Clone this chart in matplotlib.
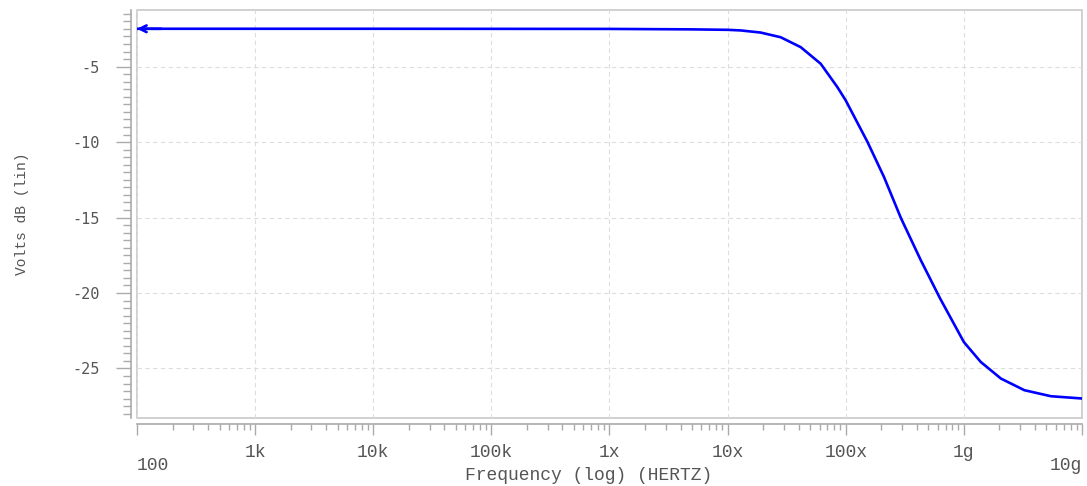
import matplotlib.pyplot as plt
from matplotlib.patches import Rectangle
from matplotlib.ticker import FixedLocator, LogLocator, MultipleLocator, NullFormatter

plt.rcParams["font.family"] = ["Liberation Mono", "DejaVu Sans Mono"]

# values (Hz, dB)
freq = [1e2, 1e4, 1e6, 5e6, 1.0e7, 1.29e7, 1.9e7, 2.81e7, 4.16e7, 6.14e7, 8.5e7,
        1.0e8, 1.53e8, 2.11e8, 2.93e8, 4.32e8, 6.3e8, 1.0e9, 1.39e9, 2.06e9,
        3.25e9, 5.46e9, 1.0e10]
volts_db = [-2.49, -2.49, -2.5, -2.53, -2.56, -2.6, -2.74, -3.05, -3.71, -4.81, -6.36,
            -7.24, -10.0, -12.32, -15.03, -17.83, -20.37, -23.25, -24.57, -25.67,
            -26.44, -26.84, -26.99]

x_ticks = [1e2, 1e3, 1e4, 1e5, 1e6, 1e7, 1e8, 1e9, 1e10]
x_labels = ["100", "1k", "10k", "100k", "1x", "10x", "100x", "1g", "10g"]
y_ticks = [-5, -10, -15, -20, -25]
y_labels = ["-5", "-10", "-15", "-20", "-25"]

txt = "#555555"
axis_col = "#aaaaaa"

fig = plt.figure(figsize=(10.87, 4.86), dpi=100)
ax = fig.add_axes([0.126, 0.14, 0.8694, 0.839])

ax.plot(freq, volts_db, color="#0000ff", lw=1.9, solid_joinstyle="round")
ax.annotate("", xy=(freq[0], volts_db[0]), xytext=(freq[0] * 1.6, volts_db[0]),
            arrowprops=dict(arrowstyle="->", color="#0000ff", lw=1.9,
                            mutation_scale=12, shrinkA=0, shrinkB=0))

ax.set_xscale("log")
ax.set_xlim(1e2, 1e10)
ax.set_ylim(-28.28, -1.26)

ax.xaxis.set_major_locator(FixedLocator(x_ticks))
ax.set_xticklabels(x_labels)
ax.xaxis.set_minor_locator(LogLocator(base=10, subs=range(2, 10)))
ax.xaxis.set_minor_formatter(NullFormatter())
ax.yaxis.set_major_locator(FixedLocator(y_ticks))
ax.set_yticklabels(y_labels)
ax.yaxis.set_minor_locator(MultipleLocator(0.5))

ax.grid(True, which="major", color="#dddddd", ls=(0, (4, 3)), lw=0.8)

for side in ["top", "right"]:
    ax.spines[side].set_visible(False)
for side in ["left", "bottom"]:
    ax.spines[side].set_position(("outward", 4))
    ax.spines[side].set_color(axis_col)
    ax.spines[side].set_linewidth(1.2)
ax.add_patch(Rectangle((0, 0), 1, 1, transform=ax.transAxes, fill=False,
                       ec="#c8c8c8", lw=1.2, clip_on=False, zorder=0))

ax.tick_params(axis="x", which="major", length=8, width=1, color=axis_col,
               pad=7, labelsize=13, labelcolor=txt)
ax.tick_params(axis="x", which="minor", length=4.5, width=1, color=axis_col)
ax.tick_params(axis="y", which="major", length=11, width=1, color=axis_col,
               pad=12, labelsize=11, labelcolor=txt)
ax.tick_params(axis="y", which="minor", length=5.5, width=1, color=axis_col)

for lab in ax.get_yticklabels():
    lab.set_fontfamily("DejaVu Sans Mono")

ticks = ax.xaxis.get_major_ticks()
ticks[0].set_pad(16)
ticks[0].label1.set_horizontalalignment("left")
ticks[-1].set_pad(16)
ticks[-1].label1.set_horizontalalignment("right")

ax.set_xlabel("Frequency (log) (HERTZ)", fontsize=13, color=txt)
ax.xaxis.set_label_coords(0.478, -0.12)
ax.set_ylabel("Volts dB (lin)", fontsize=10.5, color=txt, labelpad=31)

fig.savefig("out.png", dpi=100)
